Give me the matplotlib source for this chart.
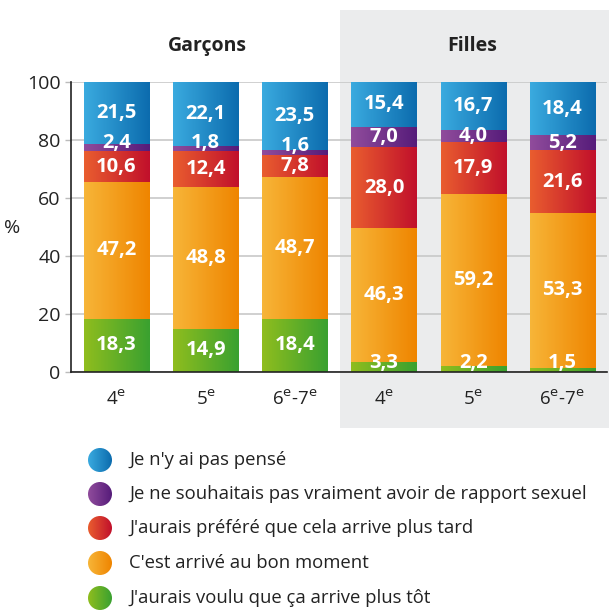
import numpy as np
import matplotlib
matplotlib.use('Agg')
import matplotlib.pyplot as plt
from matplotlib.colors import LinearSegmentedColormap
from matplotlib.patches import Rectangle, Circle

plt.rcParams['font.family'] = ['Open Sans', 'DejaVu Sans']

# Data (bottom -> top)
groups = ['Garçons', 'Filles']
classes = ['4$^{\\mathrm{e}}$', '5$^{\\mathrm{e}}$', '6$^{\\mathrm{e}}$-7$^{\\mathrm{e}}$'] * 2
categories = [
    "J'aurais voulu que ça arrive plus tôt",
    "C'est arrivé au bon moment",
    "J'aurais préféré que cela arrive plus tard",
    "Je ne souhaitais pas vraiment avoir de rapport sexuel",
    "Je n'y ai pas pensé",
]
trop_tot = [18.3, 14.9, 18.4, 3.3, 2.2, 1.5]
bon_moment = [47.2, 48.8, 48.7, 46.3, 59.2, 53.3]
plus_tard = [10.6, 12.4, 7.8, 28.0, 17.9, 21.6]
pas_souhaite = [2.4, 1.8, 1.6, 7.0, 4.0, 5.2]
pas_pense = [21.5, 22.1, 23.5, 15.4, 16.7, 18.4]
series = [trop_tot, bon_moment, plus_tard, pas_souhaite, pas_pense]

# light -> dark gradient per category
gradients = [
    ('#8fbd1e', '#3aa130'),
    ('#f7b538', '#ef8500'),
    ('#e95d2f', '#c1102b'),
    ('#904c9c', '#561c7a'),
    ('#3aaadf', '#0c6cae'),
]

fig = plt.figure(figsize=(6.09, 6.12), dpi=100)

# grey band behind the "Filles" group
fig.patches.append(Rectangle((340 / 609, 1 - 428 / 612), 1 - 340 / 609, (428 - 10) / 612,
                             transform=fig.transFigure, facecolor='#ebeced',
                             edgecolor='none', zorder=-5))

ax = fig.add_axes([71 / 609, 1 - 372 / 612, (607 - 71) / 609, (372 - 82) / 612])
ax.set_zorder(2)
ax.set_facecolor('none')

x = np.arange(len(trop_tot))
width = 0.73
bottom = np.zeros(len(x))
grad = np.linspace(0, 1, 64).reshape(1, -1)
for vals, (c0, c1) in zip(series, gradients):
    vals = np.array(vals)
    bars = ax.bar(x, vals, width, bottom=bottom, color=c1, zorder=2, linewidth=0)
    cmap = LinearSegmentedColormap.from_list('g', [c0, c1])
    for rect, v, b in zip(bars, vals, bottom):
        im = ax.imshow(grad, cmap=cmap, aspect='auto', zorder=3,
                       extent=[rect.get_x(), rect.get_x() + rect.get_width(),
                               rect.get_y(), rect.get_y() + rect.get_height()])
        im.set_clip_path(rect)
        ypos = b + v / 2 if v >= 4 else b + 3
        ax.text(rect.get_x() + rect.get_width() / 2, ypos,
                f'{v:.1f}'.replace('.', ','), ha='center', va='center',
                color='white', fontsize=14.5, fontweight='bold', zorder=5)
    bottom += vals

ax.set_xlim(-0.51, 5.5)
ax.set_ylim(0, 100)
ax.set_yticks([0, 20, 40, 60, 80, 100])
ax.set_xticks(x)
ax.set_xticklabels(classes)
ax.tick_params(axis='y', labelsize=14, colors='#bbbbbb', labelcolor='#222222', length=4, width=1)
ax.tick_params(axis='x', labelsize=13.5, length=0, pad=13, labelcolor='#222222')
ax.grid(axis='y', color='#c8c8c8', linewidth=1.2, zorder=1)
ax.set_axisbelow(True)
for s in ['top', 'right']:
    ax.spines[s].set_visible(False)
for s in ['left', 'bottom']:
    ax.spines[s].set_color('#222222')
    ax.spines[s].set_linewidth(1.2)
    ax.spines[s].set_zorder(6)

fig.text(12 / 609, 1 - 228 / 612, '%', fontsize=14, ha='center', va='center', color='#222222')
fig.text(207 / 609, 1 - 46 / 612, groups[0], fontsize=14, fontweight='bold',
         ha='center', va='center', color='#222222')
fig.text(472 / 609, 1 - 46 / 612, groups[1], fontsize=14, fontweight='bold',
         ha='center', va='center', color='#222222')

# legend, top entry first, drawn on an overlay axes in pixel units
lax = fig.add_axes([0, 0, 1, 1])
lax.set_zorder(3)
lax.axis('off')
leg_y = [460, 494, 528, 563, 598]
for yy, (c0, c1), label in zip(leg_y, gradients[::-1], categories[::-1]):
    circ = Circle((100, yy), 12, facecolor='none', edgecolor='none')
    lax.add_patch(circ)
    cmap = LinearSegmentedColormap.from_list('g', [c0, c1])
    im = lax.imshow(grad, cmap=cmap, aspect='auto', extent=[88, 112, yy + 12, yy - 12])
    im.set_clip_path(circ)
    lax.text(129, yy, label, fontsize=13.3, ha='left', va='center', color='#222222')
lax.set_xlim(0, 609)
lax.set_ylim(612, 0)

fig.savefig('out.png', dpi=100)
